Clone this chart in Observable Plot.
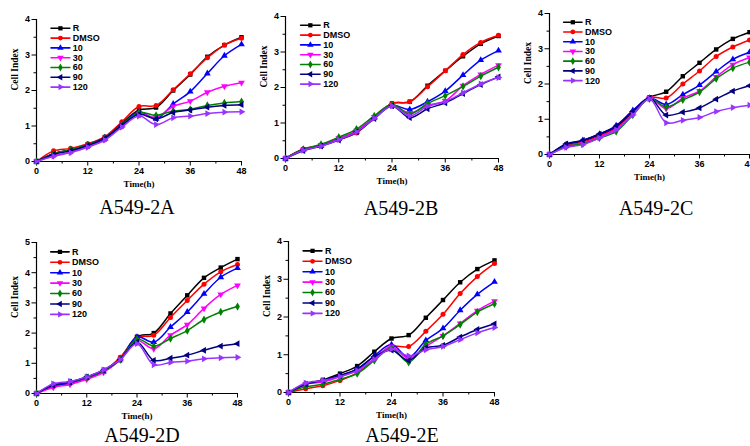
<!DOCTYPE html>
<html><head><meta charset="utf-8">
<script src="https://cdn.jsdelivr.net/npm/d3@7"></script>
<script src="https://cdn.jsdelivr.net/npm/@observablehq/plot@0.6"></script>
<style>
html,body{margin:0;padding:0;background:#fff}
body{width:750px;height:446px;overflow:hidden;position:relative}
.panel{position:absolute}
.panel svg{max-width:none;background:transparent;overflow:visible}
.cap{position:absolute;font-family:"Liberation Serif","Times New Roman",serif;font-size:20px;line-height:1;white-space:nowrap;transform:translateX(-50%);color:#000}
</style></head><body>
<script>
// ---- data ----
const hours = [0,4,8,12,16,20,24,28,32,36,40,44,48];
const seriesNames = ["R","DMSO","10","30","60","90","120"];
const seriesColors = ["#000000","#ff0000","#0000ff","#ff00ff","#008000","#000080","#9933ff"];
const seriesSymbols = ["square","circle","triangle","triangle","diamond","triangle","triangle"];
const seriesRotate = [0,0,0,180,0,-90,90];
const xTicks = [0,12,24,36,48];
const xMinorTicks = [6,18,30,42];
const panelTitles = ["A549-2A","A549-2B","A549-2C","A549-2D","A549-2E"];

const valuesA = [
  [0,0.22,0.33,0.48,0.68,1.08,1.45,1.52,2.00,2.45,2.95,3.28,3.50],
  [0,0.30,0.37,0.50,0.70,1.12,1.55,1.58,2.02,2.47,2.92,3.28,3.47],
  [0,0.22,0.32,0.47,0.67,1.05,1.40,1.20,1.62,1.97,2.48,2.98,3.30],
  [0,0.16,0.27,0.43,0.63,1.00,1.35,1.25,1.55,1.70,1.95,2.12,2.22],
  [0,0.22,0.33,0.47,0.66,1.03,1.38,1.30,1.42,1.47,1.58,1.65,1.69],
  [0,0.20,0.30,0.45,0.65,1.02,1.33,1.20,1.38,1.45,1.53,1.58,1.60],
  [0,0.15,0.25,0.40,0.60,0.97,1.28,1.04,1.23,1.28,1.35,1.39,1.40]
];
const valuesB = [
  [0,0.26,0.37,0.53,0.73,1.15,1.55,1.60,2.05,2.47,2.88,3.23,3.45],
  [0,0.27,0.37,0.53,0.72,1.15,1.55,1.60,2.02,2.47,2.93,3.27,3.47],
  [0,0.25,0.36,0.55,0.75,1.15,1.50,1.38,1.60,1.90,2.35,2.77,3.04],
  [0,0.25,0.38,0.57,0.78,1.17,1.50,1.28,1.50,1.62,2.05,2.37,2.63],
  [0,0.26,0.40,0.60,0.83,1.20,1.52,1.25,1.55,1.77,2.03,2.32,2.57],
  [0,0.22,0.35,0.52,0.75,1.12,1.48,1.15,1.40,1.57,1.83,2.08,2.30],
  [0,0.23,0.35,0.53,0.75,1.13,1.48,1.20,1.47,1.60,1.85,2.10,2.28]
];
const valuesC = [
  [0,0.28,0.38,0.55,0.78,1.20,1.62,1.78,2.22,2.60,2.98,3.28,3.47],
  [0,0.25,0.35,0.52,0.75,1.18,1.62,1.60,2.00,2.37,2.78,3.05,3.25],
  [0,0.28,0.40,0.58,0.82,1.25,1.60,1.42,1.70,1.97,2.35,2.70,2.90],
  [0,0.22,0.32,0.50,0.72,1.15,1.60,1.30,1.60,1.80,2.20,2.55,2.75],
  [0,0.23,0.30,0.47,0.65,1.12,1.58,1.35,1.55,1.77,2.15,2.45,2.62],
  [0,0.30,0.40,0.58,0.80,1.22,1.60,1.12,1.20,1.32,1.57,1.80,1.95],
  [0,0.20,0.28,0.47,0.70,1.12,1.58,0.90,0.97,1.05,1.22,1.33,1.40]
];
const valuesD = [
  [0,0.25,0.35,0.52,0.75,1.18,1.88,2.00,2.65,3.25,3.83,4.17,4.45],
  [0,0.25,0.35,0.50,0.72,1.20,1.85,1.93,2.52,3.08,3.62,4.03,4.27],
  [0,0.25,0.35,0.52,0.73,1.13,1.87,1.70,2.20,2.70,3.30,3.85,4.15],
  [0,0.20,0.30,0.47,0.70,1.12,1.75,1.48,1.93,2.28,2.82,3.28,3.58],
  [0,0.28,0.38,0.53,0.75,1.12,1.80,1.57,1.82,2.08,2.45,2.70,2.88],
  [0,0.28,0.38,0.55,0.77,1.12,1.70,1.10,1.17,1.27,1.43,1.57,1.65],
  [0,0.32,0.40,0.55,0.78,1.12,1.65,0.95,1.03,1.07,1.15,1.18,1.20]
];
const valuesE = [
  [0,0.22,0.33,0.50,0.70,1.08,1.43,1.52,1.98,2.45,2.92,3.27,3.50],
  [0,0.10,0.18,0.32,0.52,0.88,1.22,1.22,1.62,2.07,2.62,3.07,3.42],
  [0,0.22,0.30,0.45,0.62,0.97,1.27,0.93,1.38,1.70,2.18,2.60,2.93],
  [0,0.22,0.28,0.42,0.58,0.90,1.22,0.90,1.22,1.50,1.83,2.17,2.42],
  [0,0.15,0.22,0.35,0.50,0.85,1.17,0.80,1.28,1.50,1.80,2.13,2.35],
  [0,0.22,0.32,0.45,0.62,0.95,1.12,0.85,1.18,1.25,1.47,1.67,1.82],
  [0,0.25,0.32,0.42,0.58,0.88,1.15,0.97,1.13,1.22,1.40,1.58,1.72]
];
const yMaxes = [4,4,4,5,4];

// ---- layout (pixels) ----
const layouts = [
  {left:0,   top:0,   width:250, mL:36, mR:9,  mT:19, mB:34, cx:137, cy:197},
  {left:250, top:0,   width:260, mL:35, mR:12, mT:16, mB:37, cx:401, cy:198},
  {left:500, top:0,   width:280, mL:49, mR:31, mT:13, mB:41, cx:656, cy:198},
  {left:0,   top:230, width:250, mL:36, mR:13, mT:12, mB:32, cx:142, cy:425},
  {left:250, top:230, width:260, mL:38, mR:16, mT:11, mB:33, cx:402, cy:425}
];
const H = 195;
const allValues = [valuesA, valuesB, valuesC, valuesD, valuesE];
const sansFont = "Liberation Sans, Arial, sans-serif";
const serifFont = "Liberation Serif, Times New Roman, serif";

function makePanel(values, yMax, L) {
  const marks = [];
  const yTicks = d3.range(0, yMax + 1);
  const yMinor = d3.range(0.5, yMax, 1);
  marks.push(Plot.axisX({ticks: xMinorTicks, tickSize: 2.5, text: null, label: null, stroke: "#000"}));
  marks.push(Plot.axisX({ticks: xTicks, tickSize: 4.5, tickPadding: 2, label: null, fontSize: 9, fontWeight: "bold", fontFamily: sansFont, fill: "#000", stroke: "#000"}));
  marks.push(Plot.axisY({ticks: yMinor, tickSize: 2.5, text: null, label: null, stroke: "#000"}));
  marks.push(Plot.axisY({ticks: yTicks, tickSize: 4.5, tickPadding: 2, label: null, fontSize: 9, fontWeight: "bold", fontFamily: sansFont, fill: "#000", stroke: "#000", tickFormat: d3.format("d")}));
  marks.push(Plot.ruleX([0], {stroke: "#000", strokeWidth: 1.2}));
  marks.push(Plot.ruleY([0], {stroke: "#000", strokeWidth: 1.2}));
  marks.push(Plot.text(["Cell Index"], {frameAnchor: "left", rotate: -90, dx: -22, fontFamily: serifFont, fontWeight: "bold", fontSize: 9.5, fill: "#000"}));
  marks.push(Plot.text(["Time(h)"], {frameAnchor: "bottom", lineAnchor: "middle", dy: 23, fontFamily: serifFont, fontWeight: "bold", fontSize: 9, fill: "#000"}));

  seriesNames.forEach((name, i) => {
    const data = hours.map((h, j) => ({time: h, value: values[i][j]}));
    const color = seriesColors[i];
    marks.push(Plot.line(data, {x: "time", y: "value", stroke: color, strokeWidth: 1.5, curve: "catmull-rom"}));
    marks.push(Plot.dot(data, {x: "time", y: "value", symbol: seriesSymbols[i], rotate: seriesRotate[i], fill: color, stroke: "none", r: 2.5}));
    // legend entry
    const yl = yMax * (1 - (0.062 + 0.069 * i));
    marks.push(Plot.line([{x: 3.4, y: yl}, {x: 7.8, y: yl}], {x: "x", y: "y", stroke: color, strokeWidth: 1.6}));
    marks.push(Plot.dot([{x: 5.6, y: yl}], {x: "x", y: "y", symbol: seriesSymbols[i], rotate: seriesRotate[i], fill: color, stroke: "none", r: 2.4}));
    marks.push(Plot.text([{x: 8.5, y: yl, label: name}], {x: "x", y: "y", text: "label", textAnchor: "start", fontSize: 9, fontWeight: "bold", fontFamily: sansFont, fill: "#000"}));
  });

  return Plot.plot({
    width: L.width, height: H,
    marginLeft: L.mL, marginRight: L.mR, marginTop: L.mT, marginBottom: L.mB,
    x: {domain: [0, 48], axis: null},
    y: {domain: [0, yMax], axis: null},
    style: {background: "transparent", overflow: "visible"},
    marks
  });
}

layouts.forEach((L, k) => {
  const div = document.createElement("div");
  div.className = "panel";
  div.style.left = L.left + "px";
  div.style.top = L.top + "px";
  div.style.width = L.width + "px";
  div.style.height = H + "px";
  div.appendChild(makePanel(allValues[k], yMaxes[k], L));
  document.body.appendChild(div);
  const cap = document.createElement("div");
  cap.className = "cap";
  cap.style.left = L.cx + "px";
  cap.style.top = L.cy + "px";
  cap.textContent = panelTitles[k];
  document.body.appendChild(cap);
});
</script>
</body></html>
